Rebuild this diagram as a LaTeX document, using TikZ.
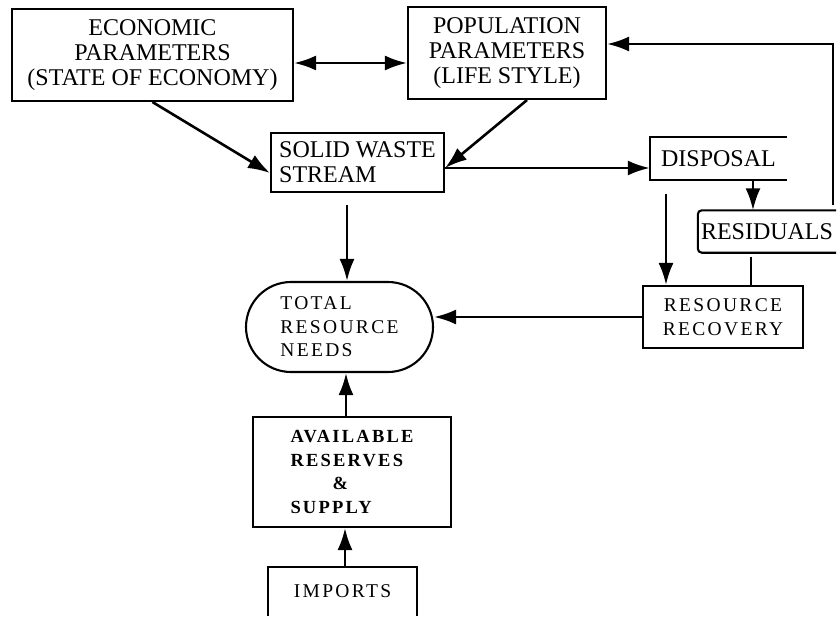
\documentclass[tikz,border=0pt]{standalone}
\usepackage{fontspec}
\setmainfont{Liberation Serif}
\newfontfamily\typefont[LetterSpace=12]{Liberation Serif}
\usetikzlibrary{arrows.meta,shapes.misc}
\begin{document}
\begin{tikzpicture}[x=1pt,y=-1pt,
  box/.style={draw, line width=2.1pt, inner sep=0pt},
  tip/.tip={Latex[length=22pt,width=15pt]},
  conn/.style={line width=2.6pt, -tip},
  both/.style={line width=2.6pt, tip-tip},
  plain/.style={line width=1.6pt},
  serif/.style={font=\fontsize{24}{25}\selectfont, align=center},
  typed/.style={font=\typefont\fontsize{19.5}{23.5}\selectfont, align=left}]
\useasboundingbox (0,0) rectangle (838,616);

% boxes
\node[box, serif, minimum width=281pt, minimum height=92pt] (econ) at (152.5,55) {ECONOMIC\\PARAMETERS\\(STATE OF ECONOMY)};
\node[box, serif, minimum width=198pt, minimum height=92pt] (pop) at (507,53) {POPULATION\\PARAMETERS\\(LIFE STYLE)};
\node[box, serif, align=left, minimum width=173pt, minimum height=59pt] (sws) at (357.5,162.5) {SOLID WASTE\\STREAM};
\node[serif, minimum width=137pt, minimum height=43pt, inner sep=0pt] (disp) at (718.5,158.5) {DISPOSAL};
\draw[box] (disp.north east) -- (disp.north west) -- (disp.south west) -- (disp.south east);
\node[serif, minimum width=138pt, minimum height=42pt, inner sep=0pt] (resid) at (767,231.5) {RESIDUALS};
\draw[box, rounded corners=4pt] (resid.north east) -- (resid.north west) -- (resid.south west) -- (resid.south east);
\node[box, typed, align=center, minimum width=160pt, minimum height=62pt] (rr) at (723,317) {RESOURCE\\RECOVERY};
\node[box, typed, rounded rectangle, minimum width=187pt, minimum height=90pt] (total) at (339.5,327) {TOTAL\\RESOURCE\\NEEDS};
\node[box, typed, font=\typefont\bfseries\fontsize{18.5}{23.5}\selectfont, minimum width=198pt, minimum height=110pt] (avail) at (352,472) {AVAILABLE\\RESERVES\\\hspace*{42pt}\&\\SUPPLY};
\node[typed, minimum width=148pt, minimum height=49pt, inner sep=0pt] (imp) at (342.5,591.5) {IMPORTS};
\draw[box] (imp.south west) -- (imp.north west) -- (imp.north east) -- (imp.south east);

% free ends
\coordinate (c1) at (666,194);
\coordinate (c2) at (347,205);
\coordinate (fb) at (833,205);

% connectors
\draw[both] ([yshift=-8pt]econ.east) -- ([yshift=-8pt]econ.east -| pop.west);
\draw[conn] (econ.south) -- ([yshift=-10.5pt]sws.west);
\draw[conn] ([xshift=20pt]pop.south) -- ([yshift=-5.5pt]sws.east);
\draw[conn] ([yshift=-5.5pt]sws.east) -- ([yshift=-5.5pt]sws.east -| disp.west);
\draw[conn] ([xshift=34.5pt]disp.south) -- ([xshift=34.5pt]disp.south |- resid.north);
\draw[conn] (c1) -- (c1 |- rr.north);
\draw[plain] ([xshift=-16pt,yshift=-4pt]resid.south) -- ([xshift=-16pt]resid.south |- rr.north);
\draw[conn] (fb) |- ([yshift=9pt]pop.east);
\draw[conn] (rr.west) -- (rr.west -| total.east);
\draw[conn] (c2) -- (c2 |- total.north);
\draw[conn] ([xshift=-6pt]avail.north) -- ([xshift=-6pt]avail.north |- total.south);
\draw[conn] ([xshift=2.5pt]imp.north) -- ([xshift=2.5pt]imp.north |- avail.south);
\end{tikzpicture}
\end{document}
